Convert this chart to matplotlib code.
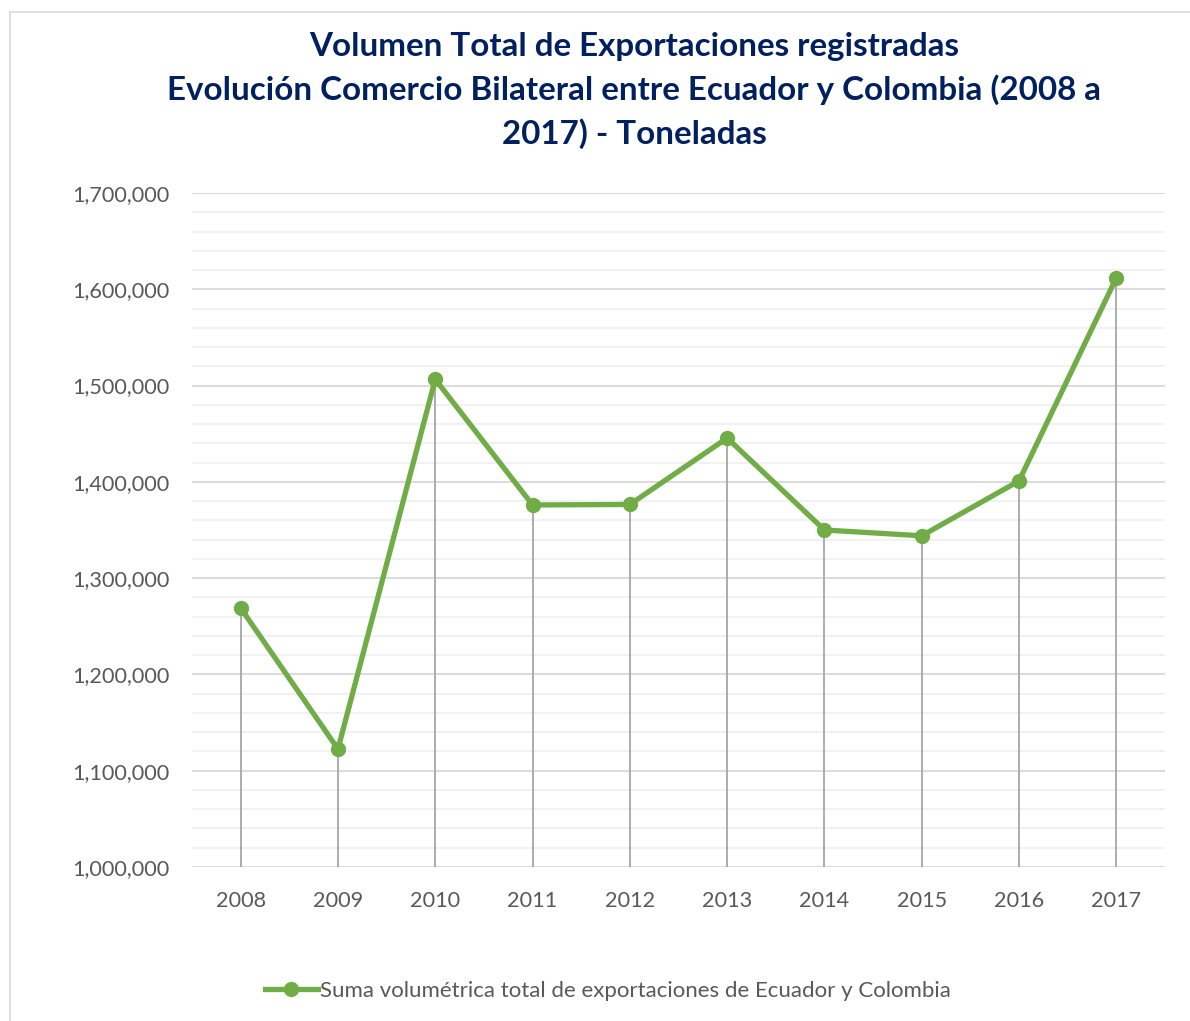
import matplotlib
matplotlib.use("Agg")
import matplotlib.pyplot as plt
from matplotlib.ticker import MultipleLocator, FuncFormatter
from matplotlib.lines import Line2D

years = ["2008", "2009", "2010", "2011", "2012", "2013", "2014", "2015", "2016", "2017"]
volumes = [1269000, 1122500, 1506500, 1376000, 1376500, 1445500, 1350000, 1344000, 1401000, 1612000]
series_label = "Suma volumétrica total de exportaciones de Ecuador y Colombia"
title = ("Volumen Total de Exportaciones registradas\n"
         "Evolución Comercio Bilateral entre Ecuador y Colombia (2008 a\n"
         "2017) - Toneladas")

GREEN = "#70AD47"
NAVY = "#002060"
GRAY_TXT = "#595959"

plt.rcParams['font.family'] = ['Lato', 'DejaVu Sans']

W, H = 1190, 1021
fig = plt.figure(figsize=(W / 100, H / 100), dpi=100)
ax = fig.add_axes([192 / W, 1 - 867 / H, (1165 - 192) / W, (867 - 193) / H])

x = list(range(len(years)))
ax.set_xlim(-0.5, len(years) - 0.5)
ax.set_ylim(1000000, 1700000)

ax.yaxis.set_major_locator(MultipleLocator(100000))
ax.yaxis.set_minor_locator(MultipleLocator(20000))
ax.grid(which='minor', axis='y', color='#F0F0F0', linewidth=1.3, zorder=0)
ax.grid(which='major', axis='y', color='#D9D9D9', linewidth=1.3, zorder=0)
ax.yaxis.set_major_formatter(FuncFormatter(lambda v, p: f"{int(v):,}"))

ax.vlines(x, 1000000, volumes, color='#A6A6A6', linewidth=1.3, zorder=2)
ax.plot(x, volumes, color=GREEN, linewidth=3.8, marker='o', markersize=10,
        solid_joinstyle='round', zorder=3, clip_on=False)

ax.set_xticks(x)
ax.set_xticklabels(years)
for s in ax.spines.values():
    s.set_visible(False)
ax.tick_params(axis='both', which='both', length=0, labelsize=15.6, colors=GRAY_TXT)
ax.tick_params(axis='x', pad=17)
ax.tick_params(axis='y', pad=16)

fig.text(634 / W, 1 - 90.5 / H, title, ha='center', va='center', fontsize=23.9,
         fontweight='bold', color=NAVY, linespacing=1.52)

handle = Line2D([], [], color=GREEN, linewidth=3.8, marker='o', markersize=10)
fig.legend([handle], [series_label], loc='center', bbox_to_anchor=(608 / W, 1 - 991 / H),
           frameon=False, fontsize=16, labelcolor=GRAY_TXT, handlelength=2.4,
           handletextpad=0.1)

# chart border
fig.add_artist(Line2D([10 / W, 10 / W], [0, 1 - 12 / H], color='#D9D9D9', linewidth=1.2,
                      transform=fig.transFigure))
fig.add_artist(Line2D([10 / W, 1], [1 - 12 / H, 1 - 12 / H], color='#D9D9D9', linewidth=1.2,
                      transform=fig.transFigure))

fig.savefig("out.png", dpi=100)
